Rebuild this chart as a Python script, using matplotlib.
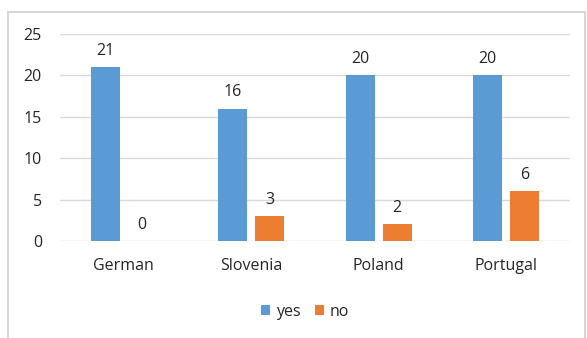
import matplotlib
matplotlib.use("Agg")
import matplotlib.pyplot as plt
from matplotlib.patches import Rectangle
import numpy as np

categories = ["German", "Slovenia", "Poland", "Portugal"]
yes_values = [21, 16, 20, 20]
no_values = [0, 3, 2, 6]
series_names = ["yes", "no"]
yticks = [0, 5, 10, 15, 20, 25]

BLUE = "#5B9BD5"
ORANGE = "#ED7D31"
TEXT = "#262626"
FS = 11.5

plt.rcParams['font.family'] = ['Open Sans', 'DejaVu Sans']

W, H = 587, 338
fig = plt.figure(figsize=(W / 100, H / 100), dpi=100)

# outer chart border
fig.patches.append(Rectangle((8 / W, -0.01), (585 - 8) / W, 1.01 - 12 / H,
                             transform=fig.transFigure, fill=False,
                             edgecolor="#D0D0D0", linewidth=1.2))

left, right = 60 / W, 570 / W
bottom, top = 1 - 241 / H, 1 - 34 / H
ax = fig.add_axes([left, bottom, right - left, top - bottom])

x = np.arange(len(categories))
bw = 0.23
off = 0.145
b1 = ax.bar(x - off, yes_values, bw, color=BLUE, label=series_names[0], zorder=3)
b2 = ax.bar(x + off, no_values, bw, color=ORANGE, label=series_names[1], zorder=3)

for bars in (b1, b2):
    for rect in bars:
        h = rect.get_height()
        ax.annotate(f"{int(h)}", (rect.get_x() + rect.get_width() / 2, h),
                    xytext=(0, 6), textcoords="offset points",
                    ha="center", va="bottom", fontsize=FS, color=TEXT)

ax.set_xlim(-0.5, len(categories) - 0.5)
ax.set_ylim(0, 25)
ax.set_yticks(yticks)
ax.set_xticks(x)
ax.set_xticklabels(categories)
ax.tick_params(axis="both", length=0, labelsize=FS, colors=TEXT)
ax.tick_params(axis="y", pad=13)
ax.tick_params(axis="x", pad=12)
ax.yaxis.grid(True, color="#D9D9D9", linewidth=1.0, zorder=0)
for s in ax.spines.values():
    s.set_visible(False)

leg = fig.legend(handles=[b1, b2], labels=series_names, loc="center",
                 bbox_to_anchor=(305 / W, 1 - 312 / H), ncol=2, frameon=False,
                 fontsize=FS, handlelength=0.6, handleheight=0.6,
                 handletextpad=0.35, columnspacing=0.9)
for t in leg.get_texts():
    t.set_color(TEXT)

fig.savefig("out.png", dpi=100)
